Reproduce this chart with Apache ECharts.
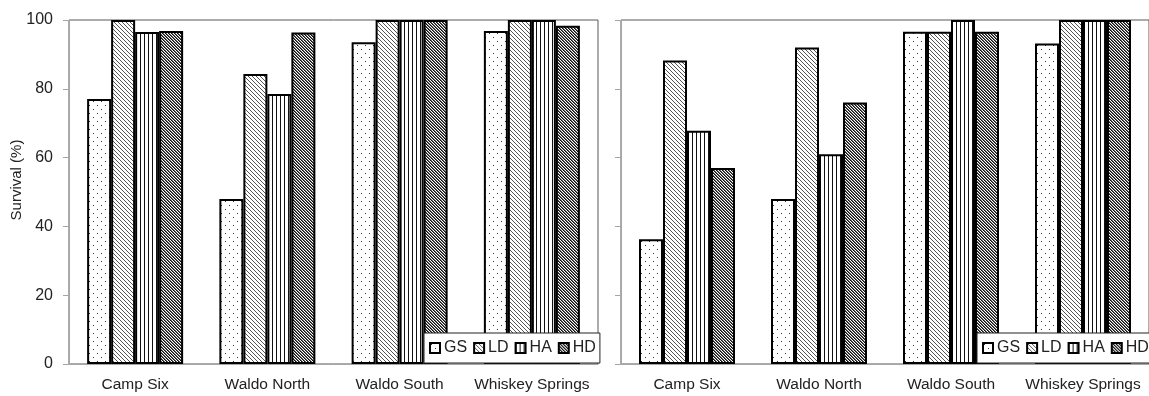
<!DOCTYPE html>
<html>
<head>
<meta charset="utf-8">
<script src="https://cdn.jsdelivr.net/npm/echarts@6/dist/echarts.min.js"></script>
<style>html,body{margin:0;padding:0;background:#fff;}#c{width:1149px;height:396px;}</style>
</head>
<body>
<div id="c"></div>
<script>
const categories = ['Camp Six', 'Waldo North', 'Waldo South', 'Whiskey Springs'];
const seriesNames = ['GS', 'LD', 'HA', 'HD'];
const yTicks = [0, 20, 40, 60, 80, 100];
const yTitle = 'Survival (%)';
// Left panel
const leftGS = [77, 48, 93.5, 96.8];
const leftLD = [100, 84.3, 100, 100];
const leftHA = [96.5, 78.5, 100, 100];
const leftHD = [96.8, 96.4, 100, 98.3];
// Right panel
const rightGS = [36.3, 48, 96.6, 93.2];
const rightLD = [88.2, 92, 96.6, 100];
const rightHA = [67.8, 61, 100, 100];
const rightHD = [57, 76, 96.6, 100];

function makePattern(type) {
  const c = document.createElement('canvas');
  let w = 6, h = 6;
  if (type === 'GS') { w = 8; h = 8; }
  if (type === 'HA') { w = 4; h = 4; }
  if (type === 'LD') { w = 4; h = 4; }
  if (type === 'HD') { w = 3; h = 3; }
  c.width = w; c.height = h;
  const g = c.getContext('2d');
  g.fillStyle = '#fff'; g.fillRect(0, 0, w, h);
  if (type === 'GS') {
    g.fillStyle = '#333';
    g.fillRect(1, 1, 1, 1);
    g.fillRect(5, 5, 1, 1);
  } else if (type === 'HA') {
    g.fillStyle = '#111';
    g.fillRect(0, 0, 1, h);
  } else if (type === 'LD') {
    g.fillStyle = '#555';
    for (let i = 0; i < w; i++) g.fillRect(i, i, 1, 1);
  } else if (type === 'HD') {
    g.fillStyle = '#111';
    for (let i = 0; i < w; i++) g.fillRect(i, i, 1, 1);
    g.fillStyle = '#666';
    for (let i = 0; i < w; i++) g.fillRect((i + 1) % w, i, 1, 1);
  }
  return { image: c, repeat: 'repeat' };
}
const patterns = {};
seriesNames.forEach(n => patterns[n] = makePattern(n));

const leftData = [leftGS, leftLD, leftHA, leftHD];
const rightData = [rightGS, rightLD, rightHA, rightHD];

const font = 'Liberation Sans, Arial, sans-serif';

function xAxis(gi) {
  return {
    type: 'category', gridIndex: gi, data: categories,
    axisLine: { lineStyle: { color: '#a6a6a6', width: 1 } },
    axisTick: { show: false },
    axisLabel: { color: '#222', fontSize: 15.5, fontFamily: font, margin: 13, interval: 0 }
  };
}
function yAxis(gi, labels) {
  return {
    type: 'value', gridIndex: gi, min: 0, max: 100, interval: 20,
    axisLine: { show: true, lineStyle: { color: '#a6a6a6', width: 1 } },
    axisTick: { show: true, length: 6, lineStyle: { color: '#a6a6a6' } },
    splitLine: { show: false },
    axisLabel: { show: labels, color: '#222', fontSize: 16, fontFamily: font, margin: 16,
      formatter: v => yTicks.includes(v) ? String(v) : '' }
  };
}
const series = [];
[leftData, rightData].forEach((set, gi) => {
  set.forEach((vals, si) => {
    series.push({
      type: 'bar', name: seriesNames[si], xAxisIndex: gi, yAxisIndex: gi,
      data: vals, barWidth: 24, barGap: '0%',
      itemStyle: { color: patterns[seriesNames[si]], borderColor: '#000', borderWidth: 2 },
      emphasis: { disabled: true }, animation: false
    });
  });
});
function legend(left) {
  return {
    data: seriesNames, left: left, top: 333, width: 200, orient: 'horizontal',
    backgroundColor: '#fff', borderColor: '#222', borderWidth: 1,
    padding: [7, 4, 7, 5], itemGap: 6, itemWidth: 10, itemHeight: 10, icon: 'rect',
    textStyle: { color: '#222', fontSize: 16, fontFamily: font, padding: [0, 0, 0, -1] },
    selectedMode: false
  };
}
const chart = echarts.init(document.getElementById('c'), null, { renderer: 'canvas' });
chart.setOption({
  backgroundColor: '#fff',
  animation: false,
  grid: [
    { left: 69, top: 20, width: 529, bottom: 32, show: true, borderColor: '#595959', borderWidth: 1, backgroundColor: 'transparent' },
    { left: 621, top: 20, width: 529, bottom: 32, show: true, borderColor: '#595959', borderWidth: 1, backgroundColor: 'transparent' }
  ],
  xAxis: [xAxis(0), xAxis(1)],
  yAxis: [yAxis(0, true), yAxis(1, false)],
  legend: [legend(424), legend(977)],
  graphic: [{
    type: 'text', x: 17, y: 180, rotation: Math.PI / 2,
    style: { text: yTitle, fill: '#222', font: '15px ' + font, textAlign: 'center', textVerticalAlign: 'middle' }
  }],
  series: series
});
</script>
</body>
</html>
